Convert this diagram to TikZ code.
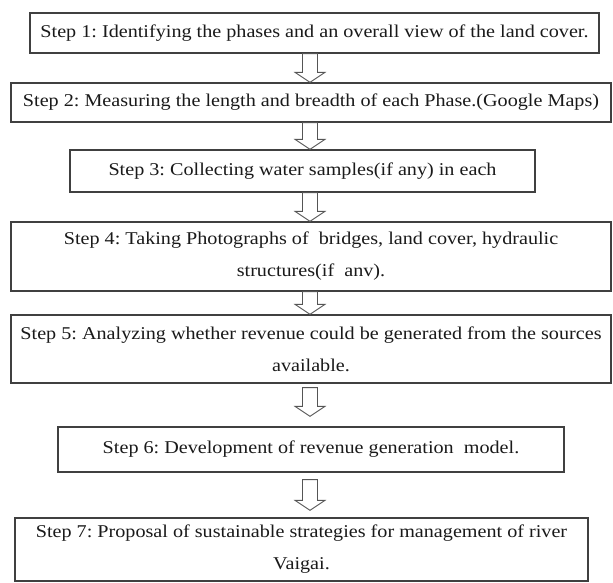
\documentclass[tikz,border=0pt]{standalone}
\usepackage{fontspec}
\setmainfont{Liberation Serif}[FakeStretch=1.12]
\usetikzlibrary{calc}
\definecolor{boxline}{HTML}{404040}
\definecolor{arrline}{HTML}{555555}
\definecolor{txt}{HTML}{1A1A1A}
\tikzset{
  stepbox/.style={draw=boxline, line width=1.3pt, fill=white, rectangle, inner sep=0pt,
    align=center, text=txt, font=\fontsize{18}{32}\selectfont\frenchspacing},
  flowarr/.style={draw=arrline, line width=0.9pt, fill=white, line join=miter}
}
\newcommand{\flowarrow}[2]{%
  \draw[flowarr] let \p1=(#1), \p2=(#2) in
    (\x1-7.5pt,\y1) -- (\x1+7.5pt,\y1) -- (\x1+7.5pt,\y2+10pt) -- (\x1+15pt,\y2+10pt)
    -- (\x1,\y2) -- (\x1-15pt,\y2+10pt) -- (\x1-7.5pt,\y2+10pt) -- cycle;}
\begin{document}
\begin{tikzpicture}[x=1pt,y=-1pt]
\useasboundingbox[fill=white] (0,0) rectangle (613,583);
\coordinate (ax) at (310,0);
\node[stepbox, minimum width=569pt, minimum height=40pt] (b1) at (314.5,33)
  {Step 1: Identifying the phases and an overall view of the land cover.};
\node[stepbox, minimum width=600pt, minimum height=39pt] (b2) at (311,102.5)
  {Step 2: Measuring the length and breadth of each Phase.(Google Maps)};
\node[stepbox, minimum width=465pt, minimum height=42pt] (b3) at (302.5,171)
  {Step 3: Collecting water samples(if any) in each};
\node[stepbox, minimum width=600pt, minimum height=69pt] (b4) at (311,256.5)
  {Step 4: Taking Photographs of\ \ bridges, land cover, hydraulic\\ structures(if\ \ anv).};
\node[stepbox, minimum width=600pt, minimum height=68pt] (b5) at (311,349)
  {Step 5: Analyzing whether revenue could be generated from the sources\\ available.};
\node[stepbox, minimum width=506pt, minimum height=45pt] (b6) at (311,449.5)
  {Step 6: Development of revenue generation\ \ model.};
\node[stepbox, minimum width=573pt, minimum height=63pt] (b7) at (301.5,549.5)
  {Step 7: Proposal of sustainable strategies for management of river\\ Vaigai.};
\flowarrow{ax |- b1.south}{ax |- b2.north}
\flowarrow{ax |- b2.south}{ax |- b3.north}
\flowarrow{ax |- b3.south}{ax |- b4.north}
\flowarrow{ax |- b4.south}{ax |- b5.north}
\flowarrow{$(ax |- b5.south)+(0,4)$}{$(ax |- b6.north)+(0,-10)$}
\flowarrow{$(ax |- b6.south)+(0,7)$}{$(ax |- b7.north)+(0,-7)$}
\end{tikzpicture}
\end{document}
